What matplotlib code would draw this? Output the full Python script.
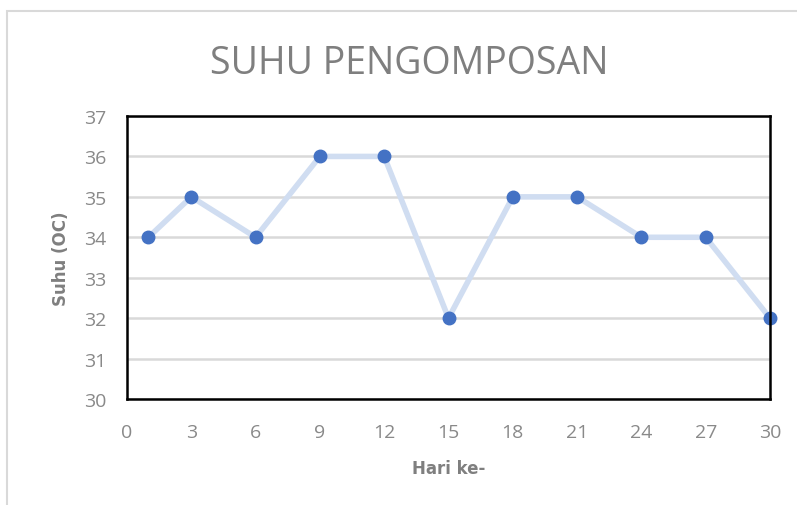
import matplotlib
matplotlib.use("Agg")
import matplotlib.pyplot as plt
from matplotlib.patches import Rectangle

# data
hari = [1, 3, 6, 9, 12, 15, 18, 21, 24, 27, 30]
suhu = [34, 35, 34, 36, 36, 32, 35, 35, 34, 34, 32]
xticks = [0, 3, 6, 9, 12, 15, 18, 21, 24, 27, 30]
yticks = [30, 31, 32, 33, 34, 35, 36, 37]

gray = '#7f7f7f'
tick_gray = '#898989'

fig = plt.figure(figsize=(7.97, 5.06), dpi=100)

# light frame around the chart area (like the Excel chart border)
fig.patches.append(Rectangle((7 / 797, -0.1), 1.1, (506 - 12) / 506 + 0.1,
                             transform=fig.transFigure, fill=False,
                             edgecolor='#d9d9d9', linewidth=1.5))

ax = fig.add_axes([127 / 797, 1 - 400 / 506, 643 / 797, 283 / 506])

ax.plot(hari, suhu, color='#d0ddf1', linewidth=4, solid_capstyle='round',
        zorder=3, clip_on=False)
ax.plot(hari, suhu, linestyle='none', marker='o', markersize=9,
        color='#4472c4', zorder=4, clip_on=False)

ax.set_xlim(0, 30)
ax.set_ylim(30, 37)
ax.set_xticks(xticks)
ax.set_yticks(yticks)
ax.grid(axis='y', color='#d9d9d9', linewidth=1.8, zorder=0)
ax.set_axisbelow(True)

for s in ax.spines.values():
    s.set_color('black')
    s.set_linewidth(1.8)
    s.set_zorder(5)

ax.tick_params(length=0, labelsize=14, labelcolor=tick_gray, pad=17)
ax.tick_params(axis='y', pad=15)
for lab in ax.get_xticklabels() + ax.get_yticklabels():
    lab.set_family('Open Sans')

ax.set_xlabel('Hari ke-', fontsize=12, fontweight='bold', color=gray, labelpad=13)
ax.set_ylabel('Suhu (OC)', fontsize=12, fontweight='bold', color=gray, labelpad=10)

fig.text(409 / 797, 1 - 64 / 506, 'SUHU PENGOMPOSAN', ha='center', va='center',
         fontsize=27, color=gray, family='Open Sans')

fig.savefig('out.png', dpi=100)
